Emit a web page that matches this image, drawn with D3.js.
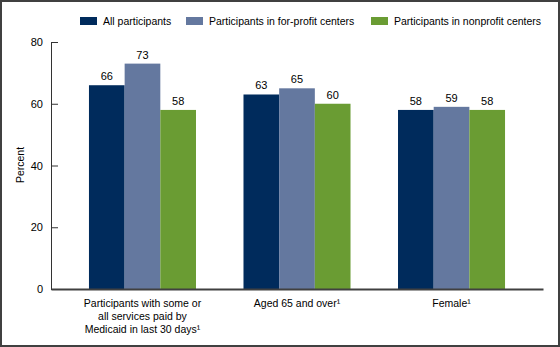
<!DOCTYPE html>
<html>
<head>
<meta charset="utf-8">
<script src="https://cdn.jsdelivr.net/npm/d3@7"></script>
<style>
  body { margin: 0; background: #fff; }
  svg { display: block; font-family: "Liberation Sans", Arial, sans-serif; }
</style>
</head>
<body>
<div id="chart"></div>
<script>
var categories = [
	["Participants with some or", "all services paid by", "Medicaid in last 30 days\u00b9"],
	["Aged 65 and over\u00b9"],
	["Female\u00b9"]
];
var seriesNames = ["All participants", "Participants in for-profit centers", "Participants in nonprofit centers"];
var allParticipants = [66, 63, 58];
var forProfit = [73, 65, 59];
var nonProfit = [58, 60, 58];
var yTicks = [0, 20, 40, 60, 80];

var colors = ["#002b5c", "#64789f", "#6a9c33"];
var seriesValues = [allParticipants, forProfit, nonProfit];
var fs = 10.5;

var width = 560, height = 347;
var svg = d3.select("#chart").append("svg")
	.attr("width", width)
	.attr("height", height);

// frame
svg.append("rect")
	.attr("x", 1).attr("y", 1)
	.attr("width", width - 2).attr("height", height - 2)
	.attr("fill", "#fff")
	.attr("stroke", "#404040")
	.attr("stroke-width", 2);

var x0 = d3.scaleBand()
	.domain(d3.range(categories.length))
	.range([51, 543])
	.paddingInner(0.3074)
	.paddingOuter(0.2457);

var x1 = d3.scaleBand()
	.domain(d3.range(seriesNames.length))
	.range([0, x0.bandwidth()]);

var y = d3.scaleLinear()
	.domain([0, 80])
	.range([289, 42]);

// bars
var groups = svg.append("g").selectAll("g")
	.data(categories)
	.enter().append("g")
	.attr("transform", function(d, i) { return "translate(" + x0(i) + ",0)"; });

groups.selectAll("rect")
	.data(function(d, i) { return seriesValues.map(function(s, j) { return {s: j, v: s[i]}; }); })
	.enter().append("rect")
	.attr("x", function(d) { return x1(d.s); })
	.attr("y", function(d) { return y(d.v); })
	.attr("width", x1.bandwidth())
	.attr("height", function(d) { return y(0) - y(d.v); })
	.attr("fill", function(d) { return colors[d.s]; });

groups.selectAll("text")
	.data(function(d, i) { return seriesValues.map(function(s, j) { return {s: j, v: s[i]}; }); })
	.enter().append("text")
	.attr("x", function(d) { return x1(d.s) + x1.bandwidth() / 2; })
	.attr("y", function(d) { return y(d.v) - 5; })
	.attr("text-anchor", "middle")
	.attr("font-size", 11)
	.attr("fill", "#000")
	.text(function(d) { return d.v; });

// y axis
var yAxis = d3.axisRight(y)
	.tickValues(yTicks)
	.tickSizeInner(7)
	.tickSizeOuter(0)
	.tickFormat("");

var yg = svg.append("g")
	.attr("transform", "translate(51,0)")
	.call(yAxis);
yg.selectAll("path, line").attr("stroke", "#333");

svg.append("g").selectAll("text")
	.data(yTicks)
	.enter().append("text")
	.attr("x", 43)
	.attr("y", function(d) { return y(d) + 4; })
	.attr("text-anchor", "end")
	.attr("font-size", 11)
	.text(function(d) { return d; });

// x axis
var xAxis = d3.axisBottom(d3.scaleLinear().range([51, 543]))
	.tickValues([])
	.tickSizeOuter(0);
var xg = svg.append("g")
	.attr("transform", "translate(0," + y(0) + ")")
	.call(xAxis);
xg.select("path").attr("stroke", "#404040").attr("stroke-width", 2);

svg.append("g").selectAll("text")
	.data(categories)
	.enter().append("text")
	.attr("x", function(d, i) { return x0(i) + x0.bandwidth() / 2; })
	.attr("y", 307)
	.attr("text-anchor", "middle")
	.attr("font-size", fs)
	.each(function(lines) {
		var t = d3.select(this);
		lines.forEach(function(l, k) {
			t.append("tspan")
				.attr("x", t.attr("x"))
				.attr("dy", k === 0 ? 0 : 13)
				.text(l);
		});
	});

// y label
svg.append("text")
	.attr("transform", "translate(24,165) rotate(-90)")
	.attr("text-anchor", "middle")
	.attr("font-size", fs)
	.text("Percent");

// legend
var legendX = [80, 186, 371];
var legend = svg.append("g").selectAll("g")
	.data(seriesNames)
	.enter().append("g")
	.attr("transform", function(d, i) { return "translate(" + legendX[i] + ",17)"; });
legend.append("rect")
	.attr("width", 17)
	.attr("height", 8)
	.attr("fill", function(d, i) { return colors[i]; });
legend.append("text")
	.attr("x", 23)
	.attr("y", 8)
	.attr("font-size", fs)
	.text(function(d) { return d; });
</script>
</body>
</html>
